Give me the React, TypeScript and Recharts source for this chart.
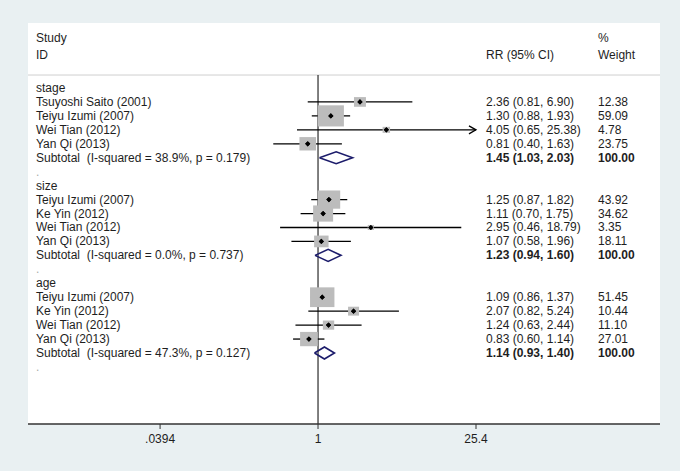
import {
  CartesianGrid,
  ComposedChart,
  ErrorBar,
  ReferenceLine,
  Scatter,
  XAxis,
  YAxis,
} from "recharts";

// forest plot: RR by subgroup (stage / size / age), log x-axis
const groupNames = ["stage", "size", "age"];

const stageStudies = ["Tsuyoshi Saito (2001)", "Teiyu Izumi (2007)", "Wei Tian (2012)", "Yan Qi (2013)"];
const stageRR = [2.36, 1.3, 4.05, 0.81];
const stageLo = [0.81, 0.88, 0.65, 0.4];
const stageHi = [6.9, 1.93, 25.38, 1.63];
const stageWeight = [12.38, 59.09, 4.78, 23.75];

const sizeStudies = ["Teiyu Izumi (2007)", "Ke Yin (2012)", "Wei Tian (2012)", "Yan Qi (2013)"];
const sizeRR = [1.25, 1.11, 2.95, 1.07];
const sizeLo = [0.87, 0.7, 0.46, 0.58];
const sizeHi = [1.82, 1.75, 18.79, 1.96];
const sizeWeight = [43.92, 34.62, 3.35, 18.11];

const ageStudies = ["Teiyu Izumi (2007)", "Ke Yin (2012)", "Wei Tian (2012)", "Yan Qi (2013)"];
const ageRR = [1.09, 2.07, 1.24, 0.83];
const ageLo = [0.86, 0.82, 0.63, 0.6];
const ageHi = [1.37, 5.24, 2.44, 1.14];
const ageWeight = [51.45, 10.44, 11.1, 27.01];

const subtotalRR = [1.45, 1.23, 1.14];
const subtotalLo = [1.03, 0.94, 0.93];
const subtotalHi = [2.03, 1.6, 1.4];
const subtotalI2 = ["38.9%", "0.0%", "47.3%"];
const subtotalP = ["0.179", "0.737", "0.127"];

const tickValues = [0.0394, 1, 25.4];
const tickLabels = [".0394", "1", "25.4"];

const groupStudies = [stageStudies, sizeStudies, ageStudies];
const groupRR = [stageRR, sizeRR, ageRR];
const groupLo = [stageLo, sizeLo, ageLo];
const groupHi = [stageHi, sizeHi, ageHi];
const groupWeight = [stageWeight, sizeWeight, ageWeight];

const W = 680;
const H = 471;
const COL_ID = 36;
const COL_RR = 486;
const COL_WT = 598;
const TEXT = "#1e1e1e";
const NAVY = "#1c1c6b";

// row units: stage label = 0, one unit per text line
const Y_TOP = -4.66;
const Y_BOT = 24.09;
const SEP_Y = -0.93;
const X_MIN = -2.579;
const X_MAX = 3.041;

const lg = Math.log10;
const f2 = (v: number) => v.toFixed(2);
const ciText = (r: number, lo: number, hi: number) => `${f2(r)} (${f2(lo)}, ${f2(hi)})`;

type TextRow = { x: number; y: number; label: string; rr?: string; wt?: string; kind: string };
type StudyPt = { x: number; y: number; w: number; hi: number; err: [number, number] };

const textRows: TextRow[] = [
  { x: 0, y: -3.58, label: "Study", wt: "%", kind: "head" },
  { x: 0, y: -2.37, label: "ID", rr: "RR (95% CI)", wt: "Weight", kind: "head" },
];
const studyPts: StudyPt[] = [];
const diamonds: { x: number; y: number }[][] = [];

let row = 0;
groupNames.forEach((g, gi) => {
  textRows.push({ x: 0, y: row, label: g, kind: "group" });
  row++;
  groupStudies[gi].forEach((name, i) => {
    const rr = groupRR[gi][i];
    const lo = groupLo[gi][i];
    const hi = groupHi[gi][i];
    textRows.push({ x: 0, y: row, label: name, rr: ciText(rr, lo, hi), wt: f2(groupWeight[gi][i]), kind: "study" });
    studyPts.push({ x: lg(rr), y: row, w: groupWeight[gi][i], hi, err: [lg(rr) - lg(lo), lg(hi) - lg(rr)] });
    row++;
  });
  const s = subtotalRR[gi];
  textRows.push({
    x: 0,
    y: row,
    label: `Subtotal\u00a0 (I-squared = ${subtotalI2[gi]}, p = ${subtotalP[gi]})`,
    rr: ciText(s, subtotalLo[gi], subtotalHi[gi]),
    wt: "100.00",
    kind: "sub",
  });
  const d = 0.43;
  diamonds.push([
    { x: lg(subtotalLo[gi]), y: row },
    { x: lg(s), y: row - d },
    { x: lg(subtotalHi[gi]), y: row },
    { x: lg(s), y: row + d },
    { x: lg(subtotalLo[gi]), y: row },
  ]);
  row++;
  textRows.push({ x: 0, y: row, label: ".", kind: "blank" });
  row++;
});

const arrowPts = studyPts.filter((p) => p.hi > 25).map((p) => ({ x: lg(p.hi), y: p.y }));

const TextShape = (props: any) => {
  const { cy, payload } = props;
  const bold = payload.kind === "sub";
  const blank = payload.kind === "blank";
  return (
    <g fontSize={12} fill={TEXT}>
      <text x={COL_ID} y={cy} dominantBaseline="central" fill={blank ? "#aaa" : TEXT}>
        {payload.label}
      </text>
      {payload.rr && (
        <text x={COL_RR} y={cy} dominantBaseline="central" fontWeight={bold ? 700 : 400}>
          {payload.rr}
        </text>
      )}
      {payload.wt && (
        <text x={COL_WT} y={cy} dominantBaseline="central" fontWeight={bold ? 700 : 400}>
          {payload.wt}
        </text>
      )}
    </g>
  );
};

const BoxShape = (props: any) => {
  const { cx, cy, payload } = props;
  const bw = 3.4 * Math.sqrt(payload.w);
  const bh = 2.75 * Math.sqrt(payload.w);
  return <rect x={cx - bw / 2} y={cy - bh / 2} width={bw} height={bh} fill="#bcbcbc" />;
};

const DotShape = (props: any) => {
  const { cx, cy } = props;
  return <path d={`M${cx - 2.6},${cy} L${cx},${cy - 2.6} L${cx + 2.6},${cy} L${cx},${cy + 2.6} Z`} fill="#000" />;
};

const ArrowShape = (props: any) => {
  const { cx, cy } = props;
  return (
    <path
      d={`M${cx - 7},${cy - 4} L${cx},${cy} L${cx - 7},${cy + 4}`}
      stroke="#000"
      strokeWidth={1.3}
      fill="none"
    />
  );
};

const NoShape = () => <g />;

export default function App() {
  return (
    <div
      style={{
        position: "absolute",
        left: 0,
        top: 0,
        width: W,
        height: H,
        background: "#e9f0f2",
        fontFamily: "'Liberation Sans', Arial, sans-serif",
      }}
    >
      <ComposedChart width={W} height={H} margin={{ top: 23, right: 20, bottom: 0, left: 28 }}>
        <CartesianGrid fill="#ffffff" horizontal={false} vertical={false} />
        <XAxis
          type="number"
          dataKey="x"
          domain={[X_MIN, X_MAX]}
          allowDataOverflow
          ticks={tickValues.map(lg)}
          tickFormatter={(v: number) => tickLabels[tickValues.map(lg).indexOf(v)] ?? ""}
          height={47}
          tickSize={5}
          tickMargin={5}
          axisLine={{ stroke: "#333", strokeWidth: 1.5 }}
          tickLine={{ stroke: "#333" }}
          tick={{ fill: TEXT, fontSize: 12 }}
        />
        <YAxis type="number" dataKey="y" domain={[Y_TOP, Y_BOT]} reversed hide allowDataOverflow />
        <ReferenceLine y={SEP_Y} stroke="#cfcfcf" />
        <ReferenceLine
          segment={[
            { x: 0, y: SEP_Y },
            { x: 0, y: Y_BOT },
          ]}
          stroke="#000"
          strokeWidth={1}
        />
        <Scatter data={studyPts} shape={BoxShape} isAnimationActive={false} />
        <Scatter data={studyPts} shape={DotShape} isAnimationActive={false}>
          <ErrorBar dataKey="err" direction="x" width={0} stroke="#000" strokeWidth={1.3} />
        </Scatter>
        <Scatter data={studyPts} shape={DotShape} isAnimationActive={false} />
        <Scatter data={arrowPts} shape={ArrowShape} isAnimationActive={false} />
        {diamonds.map((pts, i) => (
          <Scatter
            key={i}
            data={pts}
            shape={NoShape}
            line={{ stroke: NAVY, strokeWidth: 1.6 }}
            isAnimationActive={false}
          />
        ))}
        <Scatter data={textRows} shape={TextShape} isAnimationActive={false} />
      </ComposedChart>
    </div>
  );
}
